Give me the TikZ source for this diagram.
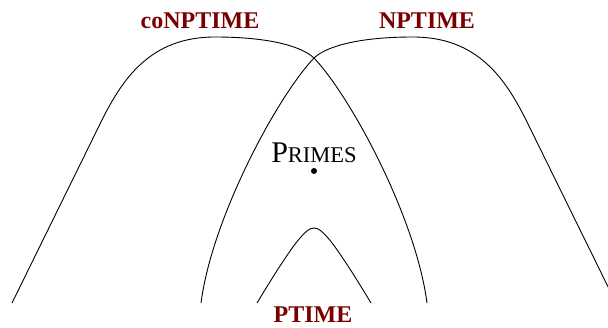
\documentclass[tikz,border=0pt]{standalone}
\usepackage{fontspec}
\setmainfont{Liberation Serif}
\usepackage{xcolor}
\usetikzlibrary{positioning}

\definecolor{classred}{RGB}{122,0,0}

\tikzset{
  classlabel/.style={text=classred, font=\fontsize{24}{28}\selectfont\bfseries, anchor=base, inner sep=0pt},
  boundary/.style={line width=0.9pt},
}
% one side of the picture; the other one is its mirror image
\newcommand{\conpcurve}{%
  (12,303) -- (100,124) .. controls (122,79) and (150,37) .. (215,37)
    .. controls (265,37) and (300,45) .. (314,58)
    .. controls (351,97) and (416,218) .. (427,303)}

\begin{document}
\begin{tikzpicture}[x=1pt, y=-1pt]
       \useasboundingbox (0,0) rectangle (608,328);
       \clip (0,0) rectangle (608,328);

       % the two classes
       \draw[boundary] \conpcurve;
       \begin{scope}[shift={(628,0)}, xscale=-1]
         \draw[boundary] \conpcurve;
       \end{scope}

       % polynomial time
       \draw[boundary] plot[smooth, tension=0.6] coordinates {(257,303) (280,266) (300,238)
         (314,228) (328,238) (348,266) (371,303)};

       \node[classlabel] (conp) at (200,29) {coNPTIME};
       \node[classlabel] (np) at (427,29) {NPTIME};
       \node[classlabel] (p) at (313,323) {PTIME};

       \node[circle, fill, inner sep=0pt, minimum size=6pt] (primes) at (314,171) {};
       \node[anchor=base, inner sep=0pt] (primeslabel) at (314,163)
         {{\fontsize{30}{34}\selectfont P}{\fontsize{22.5}{26}\selectfont RIMES}};
    \end{tikzpicture}
\end{document}
